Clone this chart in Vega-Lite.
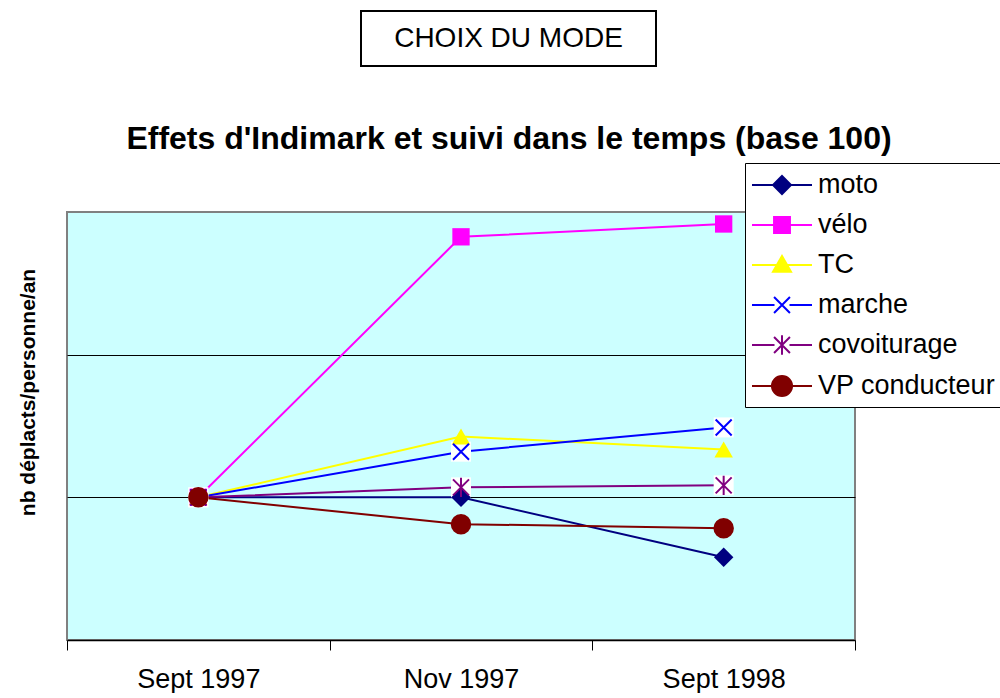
{
  "$schema": "https://vega.github.io/schema/vega-lite/v6.json",
  "background": "white",
  "padding": {"left": 16, "top": 10, "right": 0, "bottom": 0},
  "config": {
    "font": "Liberation Sans",
    "concat": {"spacing": 54}
  },
  "resolve": {"legend": {"color": "independent"}},
  "vconcat": [
    {
      "spacing": 0,
      "hconcat": [
        {
          "width": 293,
          "height": 55,
          "view": {"stroke": null, "fill": null},
          "data": {"values": []},
          "mark": {"type": "point"}
        },
        {
          "width": 295,
          "height": 55,
          "view": {"stroke": "black", "strokeWidth": 2, "fill": "white"},
          "data": {"values": [{"label": "CHOIX DU MODE"}]},
          "mark": {"type": "text", "fontSize": 28, "font": "Liberation Sans", "color": "black", "baseline": "middle", "align": "center"},
          "encoding": {"text": {"field": "label"}}
        }
      ]
    },
    {
      "width": 788,
      "height": 428,
      "view": {"fill": "#CCFFFF", "stroke": "#808080", "strokeWidth": 2},
      "title": {"text": "Effets d'Indimark et suivi dans le temps (base 100)", "fontSize": 32, "fontWeight": "bold", "anchor": "middle", "frame": "group", "dx": 48, "offset": 7, "color": "black", "font": "Liberation Sans"},
      "data": {"values": [
        {"serie": "moto", "periode": "Sept 1997", "valeur": 100},
        {"serie": "moto", "periode": "Nov 1997", "valeur": 100},
        {"serie": "moto", "periode": "Sept 1998", "valeur": 79},
        {"serie": "vélo", "periode": "Sept 1997", "valeur": 100},
        {"serie": "vélo", "periode": "Nov 1997", "valeur": 191.3},
        {"serie": "vélo", "periode": "Sept 1998", "valeur": 195.8},
        {"serie": "TC", "periode": "Sept 1997", "valeur": 100},
        {"serie": "TC", "periode": "Nov 1997", "valeur": 121.3},
        {"serie": "TC", "periode": "Sept 1998", "valeur": 116.8},
        {"serie": "marche", "periode": "Sept 1997", "valeur": 100},
        {"serie": "marche", "periode": "Nov 1997", "valeur": 116},
        {"serie": "marche", "periode": "Sept 1998", "valeur": 124.5},
        {"serie": "covoiturage", "periode": "Sept 1997", "valeur": 100},
        {"serie": "covoiturage", "periode": "Nov 1997", "valeur": 103.5},
        {"serie": "covoiturage", "periode": "Sept 1998", "valeur": 104.2},
        {"serie": "VP conducteur", "periode": "Sept 1997", "valeur": 100},
        {"serie": "VP conducteur", "periode": "Nov 1997", "valeur": 90.6},
        {"serie": "VP conducteur", "periode": "Sept 1998", "valeur": 89.2}
      ]},
      "encoding": {
        "x": {
          "field": "periode", "type": "ordinal", "sort": ["Sept 1997", "Nov 1997", "Sept 1998"],
          "bandPosition": 0.5,
          "scale": {"type": "band", "paddingInner": 0, "paddingOuter": 0},
          "axis": {"title": null, "labelAngle": 0, "tickBand": "extent", "labelFontSize": 27, "labelColor": "black", "labelFont": "Liberation Sans", "domainColor": "black", "domainWidth": 1.5, "tickColor": "black", "tickSize": 10, "labelPadding": 16, "grid": false}
        },
        "y": {
          "field": "valeur", "type": "quantitative",
          "scale": {"domain": [50, 200], "nice": false, "zero": false},
          "axis": {"title": "nb déplacts/personne/an", "labels": false, "ticks": false, "domain": false, "grid": true, "gridColor": "black", "gridWidth": 1, "gridOpacity": 1, "values": [100, 150], "titleFontSize": 21, "titleFontWeight": "bold", "titleColor": "black", "titleFont": "Liberation Sans", "titlePadding": 29, "titleY": 180}
        },
        "color": {
          "field": "serie", "type": "nominal",
          "scale": {"domain": ["moto", "vélo", "TC", "marche", "covoiturage", "VP conducteur"], "range": ["#000080", "#FF00FF", "#FFFF00", "#0000FF", "#800080", "#800000"]},
          "legend": {
            "title": null, "orient": "none", "legendX": 678, "legendY": -49,
            "fillColor": "white", "strokeColor": "black", "padding": 6,
            "symbolSize": 900, "symbolOffset": 15, "labelFontSize": 27, "labelColor": "black", "labelFont": "Liberation Sans", "labelOffset": 20, "rowPadding": 11,
            "labelLimit": 300,
            "encode": {
              "symbols": {
                "update": {
                  "shape": {"signal": "datum.value === 'moto' ? 'M-2,0H2M0,-0.6L0.6,0L0,0.6L-0.6,0Z' : datum.value === 'vélo' ? 'M-2,0H2M-0.53,-0.53H0.53V0.53H-0.53Z' : datum.value === 'TC' ? 'M-2,0H2M0,-0.6L0.6,0.45H-0.6Z' : datum.value === 'marche' ? 'M-2,0H-0.5M0.5,0H2M-0.53,-0.53L0.53,0.53M-0.53,0.53L0.53,-0.53' : datum.value === 'covoiturage' ? 'M-2,0H-0.5M0.5,0H2M-0.53,-0.53L0.53,0.53M-0.53,0.53L0.53,-0.53M0,-0.65V0.65' : 'M-2,0H2M-0.67,0A0.67,0.67,0,1,0,0.67,0A0.67,0.67,0,1,0,-0.67,0Z'"},
                  "fill": {"scale": "color", "field": "value"},
                  "stroke": {"scale": "color", "field": "value"},
                  "strokeWidth": {"value": 2},
                  "size": {"value": 900},
                  "opacity": {"value": 1},
                  "fillOpacity": {"value": 1},
                  "strokeOpacity": {"value": 1}
                }
              }
            }
          }
        }
      },
      "layer": [
        {"mark": {"type": "line", "strokeWidth": 2}},
        {
          "transform": [{"filter": "datum.serie === 'marche' || datum.serie === 'covoiturage'"}],
          "mark": {"type": "square", "filled": true, "color": "white", "size": 400, "opacity": 1},
          "encoding": {"color": {"value": "white"}}
        },
        {
          "transform": [{"filter": "datum.serie === 'moto'"}],
          "mark": {"type": "point", "shape": "diamond", "filled": true, "size": 380, "opacity": 1}
        },
        {
          "transform": [{"filter": "datum.serie === 'vélo'"}],
          "mark": {"type": "point", "shape": "square", "filled": true, "size": 300, "opacity": 1}
        },
        {
          "transform": [{"filter": "datum.serie === 'TC'"}],
          "mark": {"type": "point", "shape": "triangle-up", "filled": true, "size": 340, "opacity": 1}
        },
        {
          "transform": [{"filter": "datum.serie === 'marche'"}],
          "mark": {"type": "point", "shape": "M-1,-1L1,1M-1,1L1,-1", "filled": false, "strokeWidth": 2, "size": 256, "opacity": 1}
        },
        {
          "transform": [{"filter": "datum.serie === 'covoiturage'"}],
          "mark": {"type": "point", "shape": "M-1,-1L1,1M-1,1L1,-1M0,-1.2V1.2", "filled": false, "strokeWidth": 2, "size": 256, "opacity": 1}
        },
        {
          "transform": [{"filter": "datum.serie === 'VP conducteur'"}],
          "mark": {"type": "point", "shape": "circle", "filled": true, "size": 420, "opacity": 1}
        }
      ]
    }
  ]
}
